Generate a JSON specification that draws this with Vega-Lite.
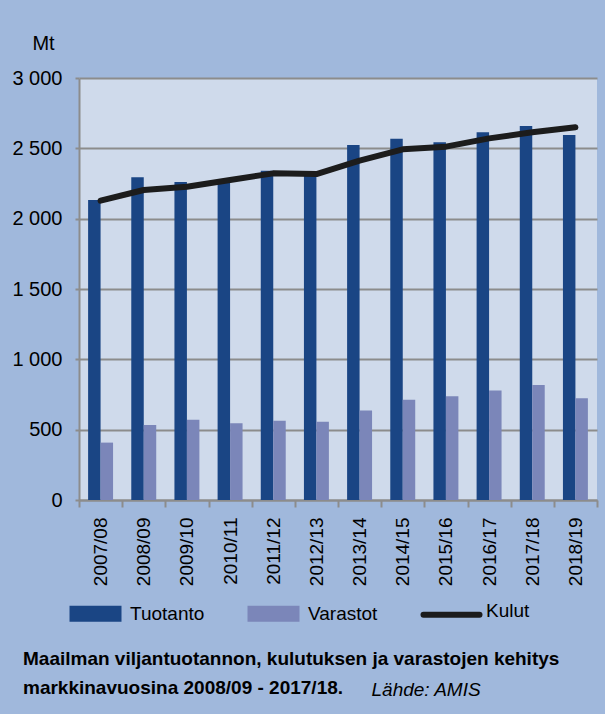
{
  "$schema": "https://vega.github.io/schema/vega-lite/v6.json",
  "width": 518,
  "height": 422,
  "autosize": {"type": "none"},
  "padding": {"left": 79, "top": 78, "right": 8, "bottom": 214},
  "background": "#a0b8dc",
  "title": {
    "text": ["Maailman viljantuotannon, kulutuksen ja varastojen kehitys", "markkinavuosina 2008/09 - 2017/18."],
    "orient": "bottom",
    "anchor": "start",
    "frame": "group",
    "dx": -56,
    "offset": -49,
    "font": "Liberation Sans, Arial, sans-serif",
    "fontSize": 19,
    "fontWeight": "bold",
    "color": "#000000",
    "lineHeight": 29
  },
  "data": {
    "values": [
      {"year": "2007/08", "series": "Tuotanto", "value": 2133},
      {"year": "2008/09", "series": "Tuotanto", "value": 2294},
      {"year": "2009/10", "series": "Tuotanto", "value": 2261},
      {"year": "2010/11", "series": "Tuotanto", "value": 2262},
      {"year": "2011/12", "series": "Tuotanto", "value": 2340},
      {"year": "2012/13", "series": "Tuotanto", "value": 2303},
      {"year": "2013/14", "series": "Tuotanto", "value": 2524},
      {"year": "2014/15", "series": "Tuotanto", "value": 2569},
      {"year": "2015/16", "series": "Tuotanto", "value": 2543},
      {"year": "2016/17", "series": "Tuotanto", "value": 2614},
      {"year": "2017/18", "series": "Tuotanto", "value": 2659},
      {"year": "2018/19", "series": "Tuotanto", "value": 2595},
      {"year": "2007/08", "series": "Varastot", "value": 408},
      {"year": "2008/09", "series": "Varastot", "value": 534},
      {"year": "2009/10", "series": "Varastot", "value": 571},
      {"year": "2010/11", "series": "Varastot", "value": 545},
      {"year": "2011/12", "series": "Varastot", "value": 564},
      {"year": "2012/13", "series": "Varastot", "value": 557},
      {"year": "2013/14", "series": "Varastot", "value": 636},
      {"year": "2014/15", "series": "Varastot", "value": 712},
      {"year": "2015/16", "series": "Varastot", "value": 738},
      {"year": "2016/17", "series": "Varastot", "value": 779},
      {"year": "2017/18", "series": "Varastot", "value": 817},
      {"year": "2018/19", "series": "Varastot", "value": 724},
      {"year": "2007/08", "series": "Kulut", "value": 2128},
      {"year": "2008/09", "series": "Kulut", "value": 2204},
      {"year": "2009/10", "series": "Kulut", "value": 2227},
      {"year": "2010/11", "series": "Kulut", "value": 2275},
      {"year": "2011/12", "series": "Kulut", "value": 2322},
      {"year": "2012/13", "series": "Kulut", "value": 2317},
      {"year": "2013/14", "series": "Kulut", "value": 2412},
      {"year": "2014/15", "series": "Kulut", "value": 2493},
      {"year": "2015/16", "series": "Kulut", "value": 2512},
      {"year": "2016/17", "series": "Kulut", "value": 2571},
      {"year": "2017/18", "series": "Kulut", "value": 2614},
      {"year": "2018/19", "series": "Kulut", "value": 2650}
    ]
  },
  "encoding": {
    "x": {
      "field": "year",
      "type": "nominal",
      "sort": null,
      "scale": {"paddingInner": 0, "paddingOuter": 0},
      "axis": {
        "title": "Lähde: AMIS",
        "titleX": 292,
        "titleY": 195,
        "titleAlign": "left",
        "titleAnchor": null,
        "titleBaseline": "alphabetic",
        "titleFont": "Liberation Sans, Arial, sans-serif",
        "titleFontSize": 19,
        "titleFontWeight": "normal",
        "titleFontStyle": "italic",
        "titleColor": "#000000",
        "tickBand": "extent",
        "labelAngle": 270,
        "labelFont": "Liberation Sans, Arial, sans-serif",
        "labelFontSize": 19,
        "labelColor": "#000000",
        "labelPadding": 10,
        "tickSize": 7,
        "tickWidth": 2,
        "tickColor": "#8c8c8c",
        "domainColor": "#8c8c8c",
        "domainWidth": 2,
        "grid": false
      }
    },
    "y": {
      "field": "value",
      "type": "quantitative",
      "scale": {"domain": [0, 3000], "nice": false},
      "axis": {
        "title": "Mt",
        "titleAngle": 0,
        "titleX": -36,
        "titleY": -35,
        "titleAlign": "center",
        "titleBaseline": "middle",
        "titleFont": "Liberation Sans, Arial, sans-serif",
        "titleFontSize": 20,
        "titleFontWeight": "normal",
        "titleColor": "#000000",
        "values": [0, 500, 1000, 1500, 2000, 2500, 3000],
        "labelExpr": "replace(format(datum.value, ','), ',', ' ')",
        "labelFont": "Liberation Sans, Arial, sans-serif",
        "labelFontSize": 20,
        "labelColor": "#000000",
        "labelPadding": 13,
        "tickSize": 4,
        "tickWidth": 2,
        "tickColor": "#8c8c8c",
        "domainColor": "#8c8c8c",
        "domainWidth": 2,
        "grid": true,
        "gridColor": "#8c8c8c",
        "gridWidth": 2
      }
    }
  },
  "layer": [
    {
      "transform": [{"filter": "datum.series !== 'Kulut'"}],
      "mark": {"type": "bar"},
      "encoding": {
        "xOffset": {
          "field": "series",
          "type": "nominal",
          "sort": ["Tuotanto", "Varastot"],
          "scale": {"paddingInner": 0, "paddingOuter": 0.73}
        },
        "y": {"field": "value", "type": "quantitative", "stack": null},
        "color": {
          "field": "series",
          "type": "nominal",
          "scale": {"domain": ["Tuotanto", "Varastot", "Kulut"], "range": ["#1a4584", "#7b86b9", "#1c1c1c"]},
          "legend": {
            "title": null,
            "orient": "none",
            "legendX": 7,
            "legendY": 523,
            "direction": "horizontal",
            "columns": 3,
            "gridAlign": "all",
            "columnPadding": 28,
            "padding": 0,
            "symbolSize": 2704,
            "labelOffset": 25,
            "labelFont": "Liberation Sans, Arial, sans-serif",
            "labelFontSize": 19,
            "labelColor": "#000000",
            "labelLimit": 200,
            "encode": {
              "symbols": {
                "update": {
                  "shape": {"signal": "datum.value === 'Kulut' ? 'M-1.077,0.15H1.077' : 'M-1,-0.3077H1V0.3077H-1Z'"},
                  "size": {"value": 2704},
                  "fill": {"signal": "datum.value === 'Kulut' ? 'transparent' : (datum.value === 'Tuotanto' ? '#1a4584' : '#7b86b9')"},
                  "stroke": {"signal": "datum.value === 'Kulut' ? '#1c1c1c' : 'transparent'"},
                  "strokeWidth": {"signal": "datum.value === 'Kulut' ? 6 : 0"},
                  "strokeCap": {"value": "round"},
                  "opacity": {"value": 1}
                }
              }
            }
          }
        }
      }
    },
    {
      "transform": [{"filter": "datum.series === 'Kulut'"}],
      "mark": {"type": "line", "strokeWidth": 6, "strokeCap": "round", "strokeJoin": "round"},
      "encoding": {
        "color": {"datum": "Kulut", "type": "nominal"}
      }
    }
  ],
  "config": {
    "view": {"stroke": null, "fill": "#cfdaeb"}
  }
}
